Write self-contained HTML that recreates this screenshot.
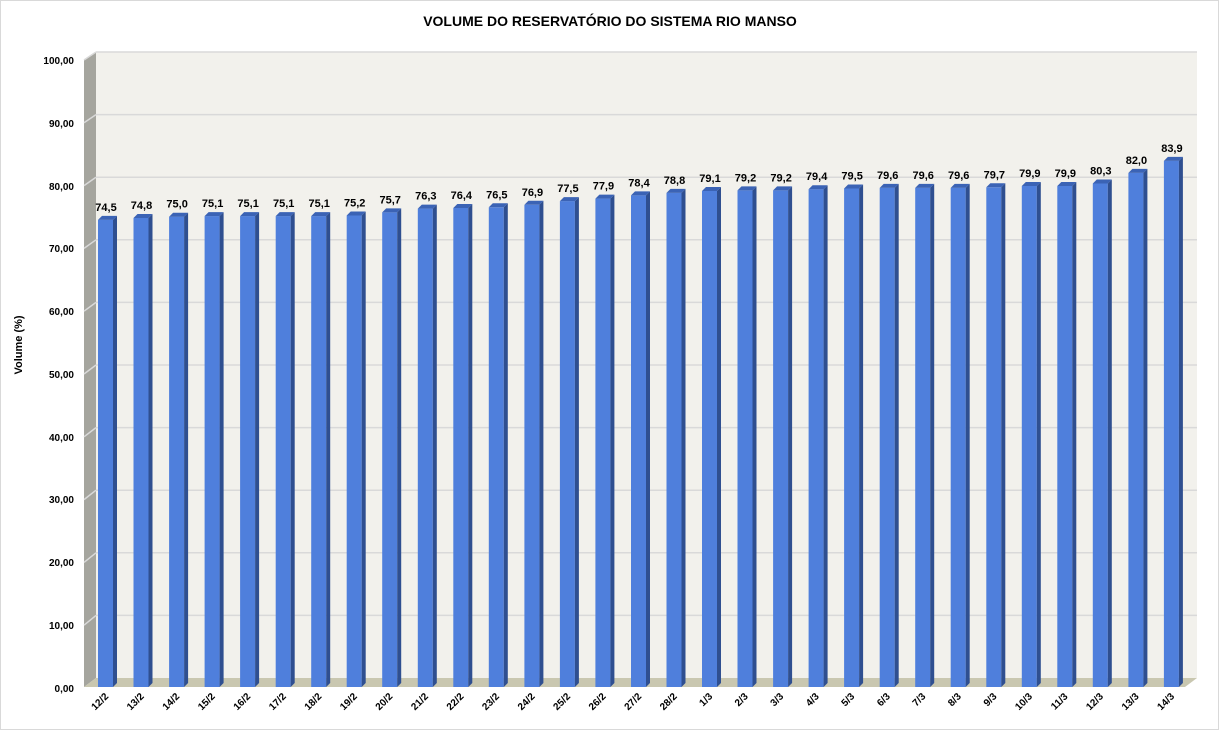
<!DOCTYPE html>
<html><head><meta charset="utf-8"><style>
html,body{margin:0;padding:0;background:#fff}
svg{display:block;font-family:"Liberation Sans",sans-serif}
</style></head><body>
<svg width="1221" height="732" viewBox="0 0 1221 732">
<rect x="0.5" y="0.5" width="1218" height="729" fill="#fff" stroke="#d9d9d9"/>
<text x="610" y="26" text-anchor="middle" font-size="14" font-weight="bold">VOLUME DO RESERVATÓRIO DO SISTEMA RIO MANSO</text>
<text transform="translate(22,345) rotate(-90)" text-anchor="middle" font-size="11" font-weight="bold">Volume (%)</text>
<!-- walls -->
<rect x="96" y="52" width="1101" height="626" fill="#f2f1ec"/>
<polygon points="84,60 96,52 96,678 84,687" fill="#a5a59e"/>
<polygon points="84,687 96,678 1197,678 1185,687" fill="#c9c7b0"/>
<g stroke="#d9d9d9" stroke-width="1.5" fill="none">
<path d="M96,52H1197M96,114.6H1197M96,177.2H1197M96,239.8H1197M96,302.4H1197M96,365H1197M96,427.6H1197M96,490.2H1197M96,552.8H1197M96,615.4H1197"/>
<path d="M84,60L96,52M84,122.8L96,114.6M84,185.6L96,177.2M84,248.4L96,239.8M84,311.2L96,302.4M84,374L96,365M84,436.8L96,427.6M84,499.6L96,490.2M84,562.4L96,552.8M84,625.2L96,615.4"/>
</g>
<g font-size="10" font-weight="bold" text-anchor="end">
<text x="74" y="64">100,00</text><text x="74" y="127">90,00</text><text x="74" y="190">80,00</text><text x="74" y="252">70,00</text><text x="74" y="315">60,00</text><text x="74" y="378">50,00</text><text x="74" y="441">40,00</text><text x="74" y="503">30,00</text><text x="74" y="566">20,00</text><text x="74" y="629">10,00</text><text x="74" y="692">0,00</text>
</g>
<defs>
<style>.f{fill:#4f7fdc}.s{fill:#2f4f90}.t{fill:#3b63b5}</style>
</defs>
<g font-size="11" font-weight="bold" text-anchor="middle">
<g transform="translate(98,219.9)"><rect class="f" width="15" height="467.1"/><polygon class="s" points="15,0 19,-4 19,463.1 15,467.1"/><polygon class="t" points="0,0 4,-4 19,-4 15,0"/><text x="8" y="-9">74,5</text></g>
<g transform="translate(133.5,218)"><rect class="f" width="15" height="469"/><polygon class="s" points="15,0 19,-4 19,465 15,469"/><polygon class="t" points="0,0 4,-4 19,-4 15,0"/><text x="8" y="-9">74,8</text></g>
<g transform="translate(169.1,216.7)"><rect class="f" width="15" height="470.3"/><polygon class="s" points="15,0 19,-4 19,466.3 15,470.3"/><polygon class="t" points="0,0 4,-4 19,-4 15,0"/><text x="8" y="-9">75,0</text></g>
<g transform="translate(204.6,216.1)"><rect class="f" width="15" height="470.9"/><polygon class="s" points="15,0 19,-4 19,466.9 15,470.9"/><polygon class="t" points="0,0 4,-4 19,-4 15,0"/><text x="8" y="-9">75,1</text></g>
<g transform="translate(240.1,216.1)"><rect class="f" width="15" height="470.9"/><polygon class="s" points="15,0 19,-4 19,466.9 15,470.9"/><polygon class="t" points="0,0 4,-4 19,-4 15,0"/><text x="8" y="-9">75,1</text></g>
<g transform="translate(275.7,216.1)"><rect class="f" width="15" height="470.9"/><polygon class="s" points="15,0 19,-4 19,466.9 15,470.9"/><polygon class="t" points="0,0 4,-4 19,-4 15,0"/><text x="8" y="-9">75,1</text></g>
<g transform="translate(311.2,216.1)"><rect class="f" width="15" height="470.9"/><polygon class="s" points="15,0 19,-4 19,466.9 15,470.9"/><polygon class="t" points="0,0 4,-4 19,-4 15,0"/><text x="8" y="-9">75,1</text></g>
<g transform="translate(346.7,215.5)"><rect class="f" width="15" height="471.5"/><polygon class="s" points="15,0 19,-4 19,467.5 15,471.5"/><polygon class="t" points="0,0 4,-4 19,-4 15,0"/><text x="8" y="-9">75,2</text></g>
<g transform="translate(382.2,212.4)"><rect class="f" width="15" height="474.6"/><polygon class="s" points="15,0 19,-4 19,470.6 15,474.6"/><polygon class="t" points="0,0 4,-4 19,-4 15,0"/><text x="8" y="-9">75,7</text></g>
<g transform="translate(417.8,208.6)"><rect class="f" width="15" height="478.4"/><polygon class="s" points="15,0 19,-4 19,474.4 15,478.4"/><polygon class="t" points="0,0 4,-4 19,-4 15,0"/><text x="8" y="-9">76,3</text></g>
<g transform="translate(453.3,208)"><rect class="f" width="15" height="479"/><polygon class="s" points="15,0 19,-4 19,475 15,479"/><polygon class="t" points="0,0 4,-4 19,-4 15,0"/><text x="8" y="-9">76,4</text></g>
<g transform="translate(488.8,207.3)"><rect class="f" width="15" height="479.7"/><polygon class="s" points="15,0 19,-4 19,475.7 15,479.7"/><polygon class="t" points="0,0 4,-4 19,-4 15,0"/><text x="8" y="-9">76,5</text></g>
<g transform="translate(524.4,204.8)"><rect class="f" width="15" height="482.2"/><polygon class="s" points="15,0 19,-4 19,478.2 15,482.2"/><polygon class="t" points="0,0 4,-4 19,-4 15,0"/><text x="8" y="-9">76,9</text></g>
<g transform="translate(559.9,201.1)"><rect class="f" width="15" height="485.9"/><polygon class="s" points="15,0 19,-4 19,481.9 15,485.9"/><polygon class="t" points="0,0 4,-4 19,-4 15,0"/><text x="8" y="-9">77,5</text></g>
<g transform="translate(595.4,198.6)"><rect class="f" width="15" height="488.4"/><polygon class="s" points="15,0 19,-4 19,484.4 15,488.4"/><polygon class="t" points="0,0 4,-4 19,-4 15,0"/><text x="8" y="-9">77,9</text></g>
<g transform="translate(631,195.4)"><rect class="f" width="15" height="491.6"/><polygon class="s" points="15,0 19,-4 19,487.6 15,491.6"/><polygon class="t" points="0,0 4,-4 19,-4 15,0"/><text x="8" y="-9">78,4</text></g>
<g transform="translate(666.5,192.9)"><rect class="f" width="15" height="494.1"/><polygon class="s" points="15,0 19,-4 19,490.1 15,494.1"/><polygon class="t" points="0,0 4,-4 19,-4 15,0"/><text x="8" y="-9">78,8</text></g>
<g transform="translate(702,191)"><rect class="f" width="15" height="496"/><polygon class="s" points="15,0 19,-4 19,492 15,496"/><polygon class="t" points="0,0 4,-4 19,-4 15,0"/><text x="8" y="-9">79,1</text></g>
<g transform="translate(737.5,190.4)"><rect class="f" width="15" height="496.6"/><polygon class="s" points="15,0 19,-4 19,492.6 15,496.6"/><polygon class="t" points="0,0 4,-4 19,-4 15,0"/><text x="8" y="-9">79,2</text></g>
<g transform="translate(773.1,190.4)"><rect class="f" width="15" height="496.6"/><polygon class="s" points="15,0 19,-4 19,492.6 15,496.6"/><polygon class="t" points="0,0 4,-4 19,-4 15,0"/><text x="8" y="-9">79,2</text></g>
<g transform="translate(808.6,189.2)"><rect class="f" width="15" height="497.8"/><polygon class="s" points="15,0 19,-4 19,493.8 15,497.8"/><polygon class="t" points="0,0 4,-4 19,-4 15,0"/><text x="8" y="-9">79,4</text></g>
<g transform="translate(844.1,188.5)"><rect class="f" width="15" height="498.5"/><polygon class="s" points="15,0 19,-4 19,494.5 15,498.5"/><polygon class="t" points="0,0 4,-4 19,-4 15,0"/><text x="8" y="-9">79,5</text></g>
<g transform="translate(879.7,187.9)"><rect class="f" width="15" height="499.1"/><polygon class="s" points="15,0 19,-4 19,495.1 15,499.1"/><polygon class="t" points="0,0 4,-4 19,-4 15,0"/><text x="8" y="-9">79,6</text></g>
<g transform="translate(915.2,187.9)"><rect class="f" width="15" height="499.1"/><polygon class="s" points="15,0 19,-4 19,495.1 15,499.1"/><polygon class="t" points="0,0 4,-4 19,-4 15,0"/><text x="8" y="-9">79,6</text></g>
<g transform="translate(950.7,187.9)"><rect class="f" width="15" height="499.1"/><polygon class="s" points="15,0 19,-4 19,495.1 15,499.1"/><polygon class="t" points="0,0 4,-4 19,-4 15,0"/><text x="8" y="-9">79,6</text></g>
<g transform="translate(986.3,187.3)"><rect class="f" width="15" height="499.7"/><polygon class="s" points="15,0 19,-4 19,495.7 15,499.7"/><polygon class="t" points="0,0 4,-4 19,-4 15,0"/><text x="8" y="-9">79,7</text></g>
<g transform="translate(1021.8,186)"><rect class="f" width="15" height="501"/><polygon class="s" points="15,0 19,-4 19,497 15,501"/><polygon class="t" points="0,0 4,-4 19,-4 15,0"/><text x="8" y="-9">79,9</text></g>
<g transform="translate(1057.3,186)"><rect class="f" width="15" height="501"/><polygon class="s" points="15,0 19,-4 19,497 15,501"/><polygon class="t" points="0,0 4,-4 19,-4 15,0"/><text x="8" y="-9">79,9</text></g>
<g transform="translate(1092.8,183.5)"><rect class="f" width="15" height="503.5"/><polygon class="s" points="15,0 19,-4 19,499.5 15,503.5"/><polygon class="t" points="0,0 4,-4 19,-4 15,0"/><text x="8" y="-9">80,3</text></g>
<g transform="translate(1128.4,172.9)"><rect class="f" width="15" height="514.1"/><polygon class="s" points="15,0 19,-4 19,510.1 15,514.1"/><polygon class="t" points="0,0 4,-4 19,-4 15,0"/><text x="8" y="-9">82,0</text></g>
<g transform="translate(1163.9,160.9)"><rect class="f" width="15" height="526.1"/><polygon class="s" points="15,0 19,-4 19,522.1 15,526.1"/><polygon class="t" points="0,0 4,-4 19,-4 15,0"/><text x="8" y="-9">83,9</text></g>
</g>
<g font-size="10" font-weight="bold" text-anchor="end">
<text transform="translate(109,697) rotate(-45)">12/2</text>
<text transform="translate(144.5,697) rotate(-45)">13/2</text>
<text transform="translate(180.1,697) rotate(-45)">14/2</text>
<text transform="translate(215.6,697) rotate(-45)">15/2</text>
<text transform="translate(251.1,697) rotate(-45)">16/2</text>
<text transform="translate(286.7,697) rotate(-45)">17/2</text>
<text transform="translate(322.2,697) rotate(-45)">18/2</text>
<text transform="translate(357.7,697) rotate(-45)">19/2</text>
<text transform="translate(393.2,697) rotate(-45)">20/2</text>
<text transform="translate(428.8,697) rotate(-45)">21/2</text>
<text transform="translate(464.3,697) rotate(-45)">22/2</text>
<text transform="translate(499.8,697) rotate(-45)">23/2</text>
<text transform="translate(535.4,697) rotate(-45)">24/2</text>
<text transform="translate(570.9,697) rotate(-45)">25/2</text>
<text transform="translate(606.4,697) rotate(-45)">26/2</text>
<text transform="translate(642,697) rotate(-45)">27/2</text>
<text transform="translate(677.5,697) rotate(-45)">28/2</text>
<text transform="translate(713,697) rotate(-45)">1/3</text>
<text transform="translate(748.5,697) rotate(-45)">2/3</text>
<text transform="translate(784.1,697) rotate(-45)">3/3</text>
<text transform="translate(819.6,697) rotate(-45)">4/3</text>
<text transform="translate(855.1,697) rotate(-45)">5/3</text>
<text transform="translate(890.7,697) rotate(-45)">6/3</text>
<text transform="translate(926.2,697) rotate(-45)">7/3</text>
<text transform="translate(961.7,697) rotate(-45)">8/3</text>
<text transform="translate(997.3,697) rotate(-45)">9/3</text>
<text transform="translate(1032.8,697) rotate(-45)">10/3</text>
<text transform="translate(1068.3,697) rotate(-45)">11/3</text>
<text transform="translate(1103.8,697) rotate(-45)">12/3</text>
<text transform="translate(1139.4,697) rotate(-45)">13/3</text>
<text transform="translate(1174.9,697) rotate(-45)">14/3</text>
</g>
</svg>
</body></html>
